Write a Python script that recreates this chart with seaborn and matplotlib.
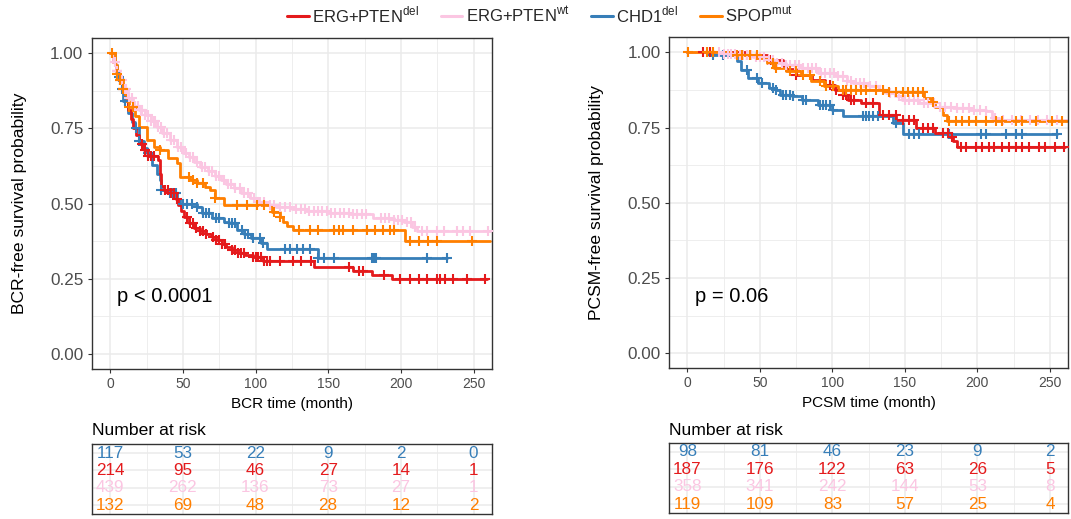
import numpy as np
import pandas as pd
import matplotlib
matplotlib.use("Agg")
import matplotlib.pyplot as plt
from matplotlib.lines import Line2D
from matplotlib.ticker import MultipleLocator
import seaborn as sns

# ---------------- data ----------------
groups = ["CHD1del", "ERG+PTENdel", "ERG+PTENwt", "SPOPmut"]
colors = {"CHD1del": "#377EB8", "ERG+PTENdel": "#E41A1C",
          "ERG+PTENwt": "#FBC6E2", "SPOPmut": "#FF7F00"}
legend_order = ["ERG+PTENdel", "ERG+PTENwt", "CHD1del", "SPOPmut"]
legend_labels = {"ERG+PTENdel": r"ERG+PTEN$^{\mathregular{del}}$",
                 "ERG+PTENwt": r"ERG+PTEN$^{\mathregular{wt}}$",
                 "CHD1del": r"CHD1$^{\mathregular{del}}$",
                 "SPOPmut": r"SPOP$^{\mathregular{mut}}$"}

# BCR-free survival: step times, survival after each step, last follow-up, censor times
bcr_chd1_t = [0, 3, 5, 8, 9, 12, 15, 17, 20, 23, 25, 29, 32, 34, 35, 40, 46, 48, 60, 63,
              70, 78, 82, 87, 92, 97, 104, 108, 143]
bcr_chd1_s = [1.0, 0.96, 0.92, 0.88, 0.84, 0.80, 0.77, 0.75, 0.71, 0.685, 0.667, 0.63, 0.60,
              0.58, 0.545, 0.534, 0.515, 0.50, 0.49, 0.468, 0.451, 0.44, 0.434, 0.412, 0.398,
              0.385, 0.368, 0.348, 0.318]
bcr_chd1_end = 232
bcr_chd1_cens = [6, 8, 10, 18, 20, 26, 35, 41, 43, 45, 50, 53, 56, 60, 64, 66, 68, 73, 75, 82,
                 84, 86, 91, 93, 95, 98, 103, 105, 120.4, 123.9, 128.4, 133, 137.6, 143.3,
                 147, 154, 180, 181.5, 183, 218, 231.7]

bcr_del_t = [0, 2, 4, 6, 8, 10, 12, 14, 16, 18, 20, 23, 26, 33, 34, 35, 37, 42, 45, 47, 49,
             51, 54, 58, 62, 66, 70, 73, 77, 80, 84, 88, 93, 98, 105, 140, 167, 180, 194]
bcr_del_s = [1.0, 0.97, 0.94, 0.91, 0.88, 0.85, 0.81, 0.78, 0.75, 0.73, 0.70, 0.68, 0.66,
             0.645, 0.60, 0.56, 0.545, 0.535, 0.515, 0.495, 0.475, 0.455, 0.435, 0.42, 0.41,
             0.40, 0.39, 0.378, 0.365, 0.355, 0.345, 0.335, 0.33, 0.322, 0.31, 0.288, 0.277,
             0.263, 0.248]
bcr_del_end = 259
bcr_del_cens = [5, 7, 9, 22, 24, 26, 28, 30, 38, 40, 42, 44, 46, 53, 55, 57, 59, 62, 64, 66,
                71, 73, 75, 77, 79, 84, 86, 88, 90, 92, 98, 100, 102, 104, 106, 108, 110, 117,
                126, 131, 138, 164, 171, 174, 188.5, 199.5, 206.4, 212.2, 218, 224.8, 227,
                230.5, 236, 245.5, 258]

bcr_wt_t = [0, 2, 4, 6, 9, 12, 16, 20, 24, 28, 32, 36, 41, 46, 50, 54, 58, 62, 67, 72, 76,
            80, 85, 90, 96, 102, 108, 114, 125, 135, 150, 165, 181, 195, 202, 208, 211]
bcr_wt_s = [1.0, 0.97, 0.94, 0.91, 0.88, 0.85, 0.826, 0.81, 0.795, 0.775, 0.756, 0.735,
            0.712, 0.69, 0.67, 0.655, 0.64, 0.623, 0.607, 0.592, 0.578, 0.565, 0.551, 0.535,
            0.518, 0.505, 0.497, 0.49, 0.483, 0.477, 0.47, 0.464, 0.451, 0.444, 0.438, 0.423,
            0.409]
bcr_wt_end = 261
bcr_wt_cens = [3, 5, 7, 8, 10, 11, 13, 15, 17, 19, 21, 22, 24, 26, 28, 30, 31, 33, 35, 37,
               39, 42, 44, 47, 49, 52, 55, 57, 60, 63, 65, 68, 70, 73, 75, 78, 81, 83, 86, 89,
               92, 95, 99, 103, 106, 110, 113, 117, 120, 124, 128, 131, 134, 137, 140, 143,
               146, 149, 152, 155, 158, 161, 164, 167, 170, 173, 176, 186, 189, 192, 195,
               198, 201, 204, 207, 210, 214.5, 218, 224.8, 229.4, 238.5, 243, 247.8, 260]

bcr_spop_t = [0, 3, 5, 7, 9, 10, 13, 17, 20, 25, 30, 34, 40, 46, 48, 55, 60, 65, 69, 72, 78,
              111, 117, 119, 122, 126, 203]
bcr_spop_s = [1.0, 0.96, 0.93, 0.91, 0.88, 0.84, 0.82, 0.79, 0.756, 0.712, 0.69, 0.678,
              0.651, 0.634, 0.59, 0.58, 0.568, 0.555, 0.545, 0.518, 0.495, 0.473, 0.457,
              0.44, 0.425, 0.412, 0.376]
bcr_spop_end = 261
bcr_spop_cens = [1, 5, 7, 9, 13, 16, 34, 54, 57, 60, 64, 72, 87, 94, 101, 105.5, 113, 117,
                 129.6, 137.6, 143.3, 153.7, 157.1, 160.5, 167.4, 176.6, 182.3, 188, 192.7,
                 195, 206.4, 212.2, 219, 224.8, 248.9]

# PCSM-free survival
pcsm_chd1_t = [0, 15, 34, 37, 42, 49, 56, 61, 64, 72, 79, 90, 100, 107, 142, 149]
pcsm_chd1_s = [1.0, 0.99, 0.97, 0.942, 0.915, 0.898, 0.882, 0.876, 0.859, 0.854, 0.840,
               0.826, 0.809, 0.787, 0.765, 0.729]
pcsm_chd1_end = 255
pcsm_chd1_cens = [17.9, 24.8, 40.8, 47.7, 51.1, 59.1, 61.4, 66.0, 68.3, 70.6, 72.9, 79.7,
                  82.0, 91.2, 93.5, 95.8, 98.0, 100.3, 121.0, 123.3, 125.5, 127.8, 131.3,
                  143.9, 153.0, 156.5, 159.9, 180.5, 202.2, 205.7, 219.5, 226.4, 230.9, 255.0]

pcsm_del_t = [0, 40, 55, 66, 68, 75, 86, 95, 102, 107, 111, 120, 132, 144, 158, 171, 180,
              183, 186]
pcsm_del_s = [1.0, 0.99, 0.973, 0.955, 0.943, 0.926, 0.909, 0.893, 0.876, 0.859, 0.843,
              0.832, 0.793, 0.776, 0.748, 0.732, 0.72, 0.704, 0.685]
pcsm_del_end = 260.7
pcsm_del_cens = [11.0, 15.6, 40.8, 56.8, 75.2, 98.0, 102.7, 107.2, 109.5, 112.9, 115.2,
                 123.3, 127.8, 134.7, 139.3, 143.9, 148.5, 153.0, 156.5, 162.2, 165.7, 169.1,
                 176.0, 179.4, 182.8, 188.6, 192.0, 198.8, 203.4, 208.0, 211.4, 217.2, 221.7,
                 226.4, 230.9, 235.5, 242.4, 246.9, 253.8, 259.6]

pcsm_wt_t = [0, 25, 35, 45, 55, 62, 68, 78, 90, 102, 110, 114, 125, 132, 137, 143, 148, 160,
             171, 183, 195, 206, 210, 215]
pcsm_wt_s = [1.0, 0.995, 0.99, 0.985, 0.975, 0.965, 0.959, 0.948, 0.932, 0.92, 0.905, 0.898,
             0.887, 0.875, 0.865, 0.855, 0.843, 0.832, 0.82, 0.815, 0.81, 0.804, 0.782, 0.776]
pcsm_wt_end = 261.5
pcsm_wt_cens = [22, 25, 28, 30, 33, 36, 38, 41, 44, 47, 50, 53, 56, 59, 62, 65, 68, 71, 74,
                77, 80, 83, 86, 89, 92, 95, 98, 101, 104, 107, 110, 113, 116, 119, 122, 126,
                130, 135, 140, 146, 150, 153, 156, 159, 163, 166, 170, 174, 178, 182, 186,
                190, 194, 198, 202, 206, 212, 218, 224, 230, 236, 242, 248, 255]

pcsm_spop_t = [0, 30, 48, 55, 60, 68, 78, 85, 94, 104, 136, 163, 168, 171, 176, 179]
pcsm_spop_s = [1.0, 0.99, 0.98, 0.965, 0.948, 0.937, 0.926, 0.904, 0.887, 0.874, 0.867,
               0.848, 0.835, 0.82, 0.793, 0.773]
pcsm_spop_end = 261.5
pcsm_spop_cens = [0.5, 13.3, 17.9, 33.9, 37.4, 43.1, 47.7, 59.1, 61.4, 70.6, 75.2, 79.7,
                  84.3, 91.2, 95.8, 100.3, 107.2, 109.5, 112.9, 116.4, 119.8, 123.3, 130.1,
                  134.7, 139.3, 143.9, 148.5, 151.9, 155.3, 158.8, 162.2, 169.1, 180.5, 185.1,
                  189.7, 194.3, 198.8, 205.7, 212.6, 217.2, 226.4, 230.9, 240.1, 251.5, 258.4]

# Number at risk at 0, 50, 100, 150, 200, 250 months
risk_times = [0, 50, 100, 150, 200, 250]
bcr_risk = {"CHD1del": [117, 53, 22, 9, 2, 0],
            "ERG+PTENdel": [214, 95, 46, 27, 14, 1],
            "ERG+PTENwt": [439, 262, 136, 73, 27, 1],
            "SPOPmut": [132, 69, 48, 28, 12, 2]}
pcsm_risk = {"CHD1del": [98, 81, 46, 23, 9, 2],
             "ERG+PTENdel": [187, 176, 122, 63, 26, 5],
             "ERG+PTENwt": [358, 341, 242, 144, 53, 8],
             "SPOPmut": [119, 109, 83, 57, 25, 4]}

bcr_curves = {
    "CHD1del": (bcr_chd1_t, bcr_chd1_s, bcr_chd1_end, bcr_chd1_cens),
    "ERG+PTENdel": (bcr_del_t, bcr_del_s, bcr_del_end, bcr_del_cens),
    "ERG+PTENwt": (bcr_wt_t, bcr_wt_s, bcr_wt_end, bcr_wt_cens),
    "SPOPmut": (bcr_spop_t, bcr_spop_s, bcr_spop_end, bcr_spop_cens),
}
pcsm_curves = {
    "CHD1del": (pcsm_chd1_t, pcsm_chd1_s, pcsm_chd1_end, pcsm_chd1_cens),
    "ERG+PTENdel": (pcsm_del_t, pcsm_del_s, pcsm_del_end, pcsm_del_cens),
    "ERG+PTENwt": (pcsm_wt_t, pcsm_wt_s, pcsm_wt_end, pcsm_wt_cens),
    "SPOPmut": (pcsm_spop_t, pcsm_spop_s, pcsm_spop_end, pcsm_spop_cens),
}

# ---------------- style ----------------
sns.set_theme(style="white")
plt.rcParams["font.family"] = ["Liberation Sans", "DejaVu Sans"]
plt.rcParams["mathtext.fontset"] = "custom"
plt.rcParams["mathtext.rm"] = "Liberation Sans"

GRID = "#EBEBEB"
FRAME = "#333333"
TICKLAB = "#4D4D4D"
XLIM = (-12.5, 262.5)

W, H = 1071, 519
fig = plt.figure(figsize=(W / 100, H / 100), dpi=100)


def px_axes(left, top, right, bottom):
    return fig.add_axes([left / W, 1 - bottom / H, (right - left) / W, (bottom - top) / H])


def style_frame(ax):
    for sp in ax.spines.values():
        sp.set_color(FRAME)
        sp.set_linewidth(1.0)
        sp.set_visible(True)


def km_frame(t, s, end):
    tt = list(t) + [end]
    ss = list(s) + [s[-1]]
    return pd.DataFrame({"time": tt, "surv": ss})


def km_at(t, s, x):
    idx = np.searchsorted(np.asarray(t), np.asarray(x), side="right") - 1
    return np.asarray(s)[idx]


def draw_km(ax, curves, xlabel, ylabel, ptext):
    ax.set_axisbelow(True)
    for g in groups:
        t, s, end, cens = curves[g]
        df = km_frame(t, s, end)
        sns.lineplot(data=df, x="time", y="surv", ax=ax, color=colors[g],
                     drawstyle="steps-post", estimator=None, sort=False,
                     linewidth=2.0, legend=False)
        cdf = pd.DataFrame({"time": cens, "surv": km_at(t, s, cens)})
        sns.scatterplot(data=cdf, x="time", y="surv", ax=ax, color=colors[g],
                        marker="+", s=60, linewidth=1.5, legend=False, zorder=3)
    ax.set_xlim(*XLIM)
    ax.set_ylim(-0.05, 1.05)
    ax.set_xticks([0, 50, 100, 150, 200, 250])
    ax.set_yticks([0, 0.25, 0.5, 0.75, 1.0])
    ax.set_yticklabels(["0.00", "0.25", "0.50", "0.75", "1.00"])
    ax.xaxis.set_minor_locator(MultipleLocator(25))
    ax.yaxis.set_minor_locator(MultipleLocator(0.125))
    ax.grid(which="major", color=GRID, linewidth=1.1)
    ax.grid(which="minor", color=GRID, linewidth=0.6)
    ax.tick_params(axis="both", which="major", direction="out", length=2.8, width=0.8,
                   color=FRAME, labelcolor=TICKLAB)
    ax.tick_params(axis="both", which="minor", length=0)
    ax.tick_params(axis="x", labelsize=10, pad=3)
    ax.tick_params(axis="y", labelsize=12.3, pad=3.5)
    ax.tick_params(bottom=True, left=True)
    ax.set_xlabel(xlabel, fontsize=11, color="black", labelpad=4)
    ax.set_ylabel(ylabel, fontsize=12.6, color="black")
    ax.yaxis.set_label_coords(-0.163, 0.5)
    ax.text(5, 0.19, ptext, fontsize=14.5, color="black", ha="left", va="center")
    style_frame(ax)


def draw_risk(ax, risk):
    ax.set_xlim(*XLIM)
    ax.set_ylim(0.5, 4.5)
    ax.set_xticks(risk_times)
    ax.xaxis.set_minor_locator(MultipleLocator(25))
    ax.set_yticks([1, 2, 3, 4])
    ax.grid(which="major", color=GRID, linewidth=1.1)
    ax.grid(which="minor", axis="x", color=GRID, linewidth=0.6)
    ax.tick_params(which="both", length=0, labelbottom=False, labelleft=False)
    ax.set_xlabel("")
    ax.set_ylabel("")
    for row, g in zip([4, 3, 2, 1], groups):
        for x, n in zip(risk_times, risk[g]):
            ax.text(x, row, str(n), color=colors[g], fontsize=12.3,
                    ha="center", va="center")
    style_frame(ax)


ax1 = px_axes(92, 38.3, 491.7, 369)
ax2 = px_axes(669.3, 37.3, 1068, 368.3)
tab1 = px_axes(92, 444.3, 491.7, 514)
tab2 = px_axes(669.3, 443, 1068, 513)

draw_km(ax1, bcr_curves, "BCR time (month)", "BCR-free survival probability", "p < 0.0001")
draw_km(ax2, pcsm_curves, "PCSM time (month)", "PCSM-free survival probability", "p = 0.06")
draw_risk(tab1, bcr_risk)
draw_risk(tab2, pcsm_risk)

fig.text(92 / W, 1 - 435 / H, "Number at risk", fontsize=12.6, color="black",
         ha="left", va="baseline")
fig.text(669.3 / W, 1 - 435 / H, "Number at risk", fontsize=12.6, color="black",
         ha="left", va="baseline")

handles = [Line2D([0], [0], color=colors[g], linewidth=2.2) for g in legend_order]
fig.legend(handles, [legend_labels[g] for g in legend_order], loc="center",
           bbox_to_anchor=(540 / W, 1 - 15 / H), ncol=4, frameon=False, fontsize=12,
           handlelength=1.3, handletextpad=0.2, columnspacing=1.3)

fig.savefig("out.png", dpi=100)
